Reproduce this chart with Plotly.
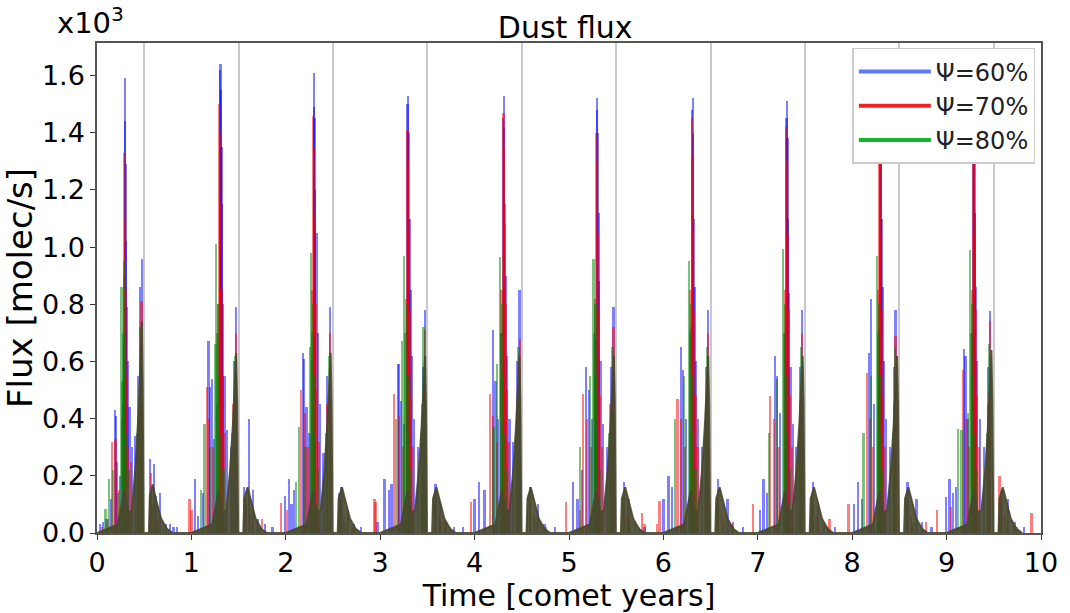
import plotly.graph_objects as go

# ---------------------------------------------------------------------------
# Dust flux spikes (units of 10^3 molec/s) against time in comet years
# ---------------------------------------------------------------------------
blue_t = [
    0.03, 0.06, 0.10, 0.15, 0.19, 0.20, 0.215, 0.245, 0.282, 0.288, 0.295, 0.300, 0.305, 0.310, 0.318, 0.328, 0.345, 0.37, 0.40, 0.44, 0.455, 0.474, 0.565, 0.60, 0.625, 0.67, 0.73, 0.77, 0.81, 0.85,
    1.04, 1.07, 1.12, 1.18, 1.20, 1.22, 1.24, 1.275, 1.29, 1.30, 1.308, 1.312, 1.318, 1.325, 1.335, 1.35, 1.38, 1.42, 1.45, 1.47, 1.56, 1.61, 1.65, 1.70, 1.78, 1.86,
    1.99, 2.03, 2.06, 2.09, 2.185, 2.19, 2.22, 2.25, 2.28, 2.295, 2.30, 2.305, 2.312, 2.325, 2.34, 2.36, 2.40, 2.44, 2.47, 2.56, 2.59, 2.66, 2.72, 2.80, 2.97,
    3.045, 3.09, 3.12, 3.186, 3.20, 3.22, 3.25, 3.28, 3.29, 3.295, 3.30, 3.31, 3.32, 3.335, 3.36, 3.40, 3.45, 3.474, 3.586, 3.63, 3.70, 3.78, 3.88,
    4.00, 4.05, 4.106, 4.194, 4.22, 4.25, 4.285, 4.30, 4.31, 4.315, 4.322, 4.33, 4.345, 4.37, 4.41, 4.45, 4.475, 4.59, 4.675, 4.74, 4.85,
    5.04, 5.09, 5.14, 5.18, 5.21, 5.24, 5.28, 5.295, 5.30, 5.305, 5.312, 5.32, 5.335, 5.36, 5.40, 5.445, 5.47, 5.585, 5.63, 5.70, 5.80,
    6.00, 6.055, 6.09, 6.19, 6.21, 6.24, 6.29, 6.305, 6.31, 6.315, 6.322, 6.33, 6.345, 6.37, 6.41, 6.45, 6.47, 6.58, 6.68, 6.74, 6.84,
    7.02, 7.06, 7.10, 7.18, 7.20, 7.235, 7.29, 7.305, 7.31, 7.315, 7.322, 7.33, 7.345, 7.37, 7.41, 7.45, 7.47, 7.585, 7.64, 7.70, 7.82,
    8.02, 8.06, 8.10, 8.18, 8.20, 8.23, 8.28, 8.295, 8.30, 8.305, 8.312, 8.32, 8.335, 8.36, 8.40, 8.44, 8.46, 8.585, 8.68, 8.74, 8.84,
    8.995, 9.03, 9.07, 9.10, 9.185, 9.20, 9.23, 9.275, 9.285, 9.29, 9.295, 9.302, 9.31, 9.325, 9.35, 9.40, 9.44, 9.46, 9.585, 9.65, 9.72, 9.82,
]
blue_v = [
    0.03, 0.04, 0.05, 0.12, 0.43, 0.41, 0.25, 0.20, 0.45, 0.66, 1.59, 1.44, 1.29, 1.02, 0.79, 0.60, 0.44, 0.30, 0.34, 0.55, 0.86, 0.96, 0.26, 0.24, 0.13, 0.14, 0.03, 0.03, 0.02, 0.02,
    0.19, 0.06, 0.14, 0.67, 0.51, 0.54, 0.33, 0.45, 0.70, 1.62, 1.64, 1.55, 1.35, 1.15, 0.80, 0.55, 0.36, 0.30, 0.60, 0.79, 0.16, 0.40, 0.15, 0.05, 0.03, 0.02,
    0.13, 0.19, 0.10, 0.15, 0.63, 0.61, 0.44, 0.35, 0.60, 1.49, 1.61, 1.45, 1.20, 1.05, 0.70, 0.45, 0.28, 0.55, 0.79, 0.14, 0.16, 0.08, 0.03, 0.02, 0.04,
    0.19, 0.15, 0.17, 0.59, 0.59, 0.46, 0.38, 0.72, 1.50, 1.53, 1.40, 1.10, 0.85, 0.62, 0.40, 0.30, 0.58, 0.78, 0.17, 0.11, 0.04, 0.02, 0.02,
    0.12, 0.18, 0.15, 0.71, 0.53, 0.40, 0.70, 1.45, 1.53, 1.42, 1.15, 0.90, 0.62, 0.40, 0.32, 0.60, 0.85, 0.16, 0.10, 0.03, 0.02,
    0.18, 0.12, 0.22, 0.58, 0.50, 0.40, 0.68, 1.48, 1.52, 1.40, 1.12, 0.88, 0.60, 0.38, 0.30, 0.58, 0.79, 0.18, 0.12, 0.04, 0.02,
    0.12, 0.20, 0.16, 0.65, 0.57, 0.40, 0.72, 1.48, 1.52, 1.40, 1.10, 0.86, 0.60, 0.40, 0.30, 0.58, 0.78, 0.19, 0.12, 0.04, 0.02,
    0.08, 0.19, 0.14, 0.62, 0.55, 0.42, 0.70, 1.45, 1.51, 1.38, 1.10, 0.84, 0.58, 0.38, 0.30, 0.58, 0.78, 0.18, 0.11, 0.04, 0.02,
    0.10, 0.18, 0.12, 0.63, 0.82, 0.45, 0.72, 1.45, 1.50, 1.38, 1.10, 0.86, 0.60, 0.40, 0.30, 0.58, 0.78, 0.18, 0.12, 0.04, 0.02,
    0.125, 0.19, 0.14, 0.16, 0.645, 0.62, 0.40, 0.70, 1.45, 1.52, 1.40, 1.12, 0.86, 0.60, 0.40, 0.30, 0.58, 0.776, 0.155, 0.12, 0.04, 0.02,
]

red_t = [
    0.05, 0.12, 0.161, 0.195, 0.23, 0.27, 0.285, 0.29, 0.297, 0.305, 0.315, 0.33, 0.36, 0.44, 0.465, 0.472, 0.57, 0.60, 0.64, 0.73,
    0.98, 1.00, 1.166, 1.19, 1.23, 1.28, 1.295, 1.30, 1.308, 1.318, 1.33, 1.35, 1.44, 1.47, 1.575, 1.62, 1.75,
    1.946, 2.01, 2.16, 2.20, 2.23, 2.275, 2.29, 2.297, 2.305, 2.315, 2.33, 2.35, 2.44, 2.47, 2.58, 2.62, 2.70, 2.94,
    2.95, 3.15, 3.20, 3.24, 3.275, 3.29, 3.297, 3.305, 3.315, 3.33, 3.35, 3.44, 3.475, 3.58, 3.62, 3.68,
    3.96, 4.16, 4.195, 4.24, 4.285, 4.305, 4.31, 4.318, 4.328, 4.34, 4.36, 4.45, 4.477, 4.585, 4.63, 4.70,
    4.97, 5.12, 5.15, 5.19, 5.23, 5.275, 5.29, 5.297, 5.305, 5.315, 5.33, 5.35, 5.44, 5.47, 5.58, 5.62, 5.80,
    5.77, 5.93, 5.96, 6.15, 6.19, 6.23, 6.285, 6.30, 6.307, 6.315, 6.325, 6.34, 6.36, 6.45, 6.47, 6.58, 6.62, 6.72,
    6.95, 7.13, 7.17, 7.22, 7.285, 7.30, 7.307, 7.315, 7.325, 7.34, 7.36, 7.45, 7.47, 7.58, 7.62, 7.76,
    7.96, 8.16, 8.19, 8.22, 8.275, 8.29, 8.297, 8.305, 8.315, 8.33, 8.35, 8.44, 8.46, 8.58, 8.62, 8.78,
    8.90, 9.05, 9.17, 9.21, 9.24, 9.27, 9.285, 9.292, 9.30, 9.31, 9.325, 9.345, 9.44, 9.46, 9.56, 9.62, 9.90,
]
red_v = [
    0.02, 0.05, 0.32, 0.33, 0.15, 0.40, 0.90, 1.33, 1.10, 0.85, 0.55, 0.30, 0.25, 0.40, 0.70, 0.81, 0.21, 0.10, 0.05, 0.02,
    0.12, 0.08, 0.51, 0.40, 0.30, 0.80, 1.50, 1.40, 1.15, 0.85, 0.55, 0.35, 0.45, 0.70, 0.12, 0.08, 0.05,
    0.105, 0.08, 0.50, 0.42, 0.30, 0.85, 1.46, 1.35, 1.10, 0.80, 0.50, 0.32, 0.45, 0.70, 0.12, 0.06, 0.02, 0.12,
    0.107, 0.485, 0.41, 0.30, 0.82, 1.41, 1.30, 1.05, 0.78, 0.48, 0.30, 0.45, 0.71, 0.12, 0.06, 0.04,
    0.11, 0.485, 0.41, 0.32, 0.85, 1.47, 1.35, 1.08, 0.80, 0.50, 0.32, 0.45, 0.68, 0.13, 0.06, 0.03,
    0.107, 0.08, 0.485, 0.40, 0.30, 0.82, 1.40, 1.30, 1.05, 0.78, 0.48, 0.30, 0.45, 0.72, 0.12, 0.06, 0.03,
    0.07, 0.03, 0.113, 0.47, 0.40, 0.30, 0.85, 1.45, 1.32, 1.06, 0.78, 0.48, 0.30, 0.45, 0.70, 0.13, 0.06, 0.03,
    0.10, 0.48, 0.40, 0.30, 0.85, 1.42, 1.30, 1.05, 0.78, 0.48, 0.30, 0.45, 0.70, 0.12, 0.06, 0.05,
    0.10, 0.56, 0.40, 0.30, 0.85, 1.40, 1.30, 1.05, 0.78, 0.48, 0.30, 0.45, 0.69, 0.12, 0.06, 0.04,
    0.08, 0.09, 0.57, 0.40, 0.30, 0.85, 1.44, 1.30, 1.05, 0.78, 0.48, 0.30, 0.45, 0.74, 0.20, 0.06, 0.07,
]

green_t = [
    0.09, 0.126, 0.17, 0.22, 0.26, 0.27, 0.28, 0.29, 0.30, 0.31, 0.34, 0.43, 0.46, 0.475, 0.58, 0.64, 0.70, 0.76,
    1.10, 1.14, 1.20, 1.254, 1.26, 1.27, 1.285, 1.295, 1.31, 1.34, 1.43, 1.46, 1.58, 1.64, 1.72,
    2.11, 2.14, 2.20, 2.255, 2.265, 2.275, 2.285, 2.295, 2.31, 2.34, 2.43, 2.46, 2.58, 2.64, 2.72,
    3.17, 3.23, 3.255, 3.265, 3.28, 3.29, 3.30, 3.33, 3.43, 3.46, 3.58, 3.64, 3.74,
    4.20, 4.24, 4.27, 4.28, 4.29, 4.30, 4.31, 4.34, 4.44, 4.465, 4.59, 4.65, 4.75,
    5.12, 5.22, 5.26, 5.27, 5.28, 5.29, 5.30, 5.33, 5.43, 5.46, 5.58, 5.64, 5.74,
    6.12, 6.22, 6.27, 6.28, 6.29, 6.30, 6.31, 6.34, 6.44, 6.46, 6.58, 6.64, 6.74,
    7.12, 7.20, 7.27, 7.28, 7.29, 7.30, 7.31, 7.34, 7.44, 7.46, 7.58, 7.64, 7.74,
    8.12, 8.20, 8.26, 8.27, 8.28, 8.29, 8.30, 8.33, 8.43, 8.45, 8.58, 8.64, 8.74,
    9.12, 9.157, 9.23, 9.25, 9.26, 9.27, 9.28, 9.29, 9.32, 9.43, 9.45, 9.57, 9.64, 9.74,
]
green_v = [
    0.085, 0.19, 0.22, 0.14, 0.86, 0.53, 0.70, 0.95, 0.60, 0.35, 0.22, 0.35, 0.72, 0.60, 0.10, 0.04, 0.02, 0.015,
    0.15, 0.38, 0.30, 0.66, 1.01, 0.70, 0.80, 0.55, 0.35, 0.22, 0.35, 0.62, 0.10, 0.04, 0.02,
    0.18, 0.37, 0.30, 0.65, 0.98, 0.70, 0.80, 0.55, 0.35, 0.22, 0.35, 0.62, 0.10, 0.04, 0.02,
    0.40, 0.67, 0.97, 0.70, 0.80, 0.55, 0.35, 0.22, 0.35, 0.72, 0.10, 0.04, 0.02,
    0.37, 0.59, 0.965, 0.70, 0.80, 0.55, 0.35, 0.22, 0.35, 0.65, 0.10, 0.04, 0.02,
    0.30, 0.55, 0.96, 0.70, 0.80, 0.55, 0.35, 0.22, 0.35, 0.65, 0.10, 0.04, 0.02,
    0.40, 0.55, 0.95, 0.70, 0.80, 0.55, 0.35, 0.22, 0.35, 0.65, 0.10, 0.04, 0.02,
    0.35, 0.54, 0.995, 0.70, 0.80, 0.55, 0.35, 0.22, 0.35, 0.65, 0.10, 0.04, 0.02,
    0.35, 0.55, 0.97, 0.70, 0.80, 0.55, 0.35, 0.22, 0.35, 0.65, 0.10, 0.04, 0.02,
    0.365, 0.36, 0.42, 0.99, 0.70, 0.80, 0.55, 0.35, 0.22, 0.35, 0.66, 0.10, 0.04, 0.02,
]

# Dense band where the runs of all three series overlap
band_t = [
    0.00, 0.22, 0.29, 0.33, 0.37, 0.41, 0.44, 0.46, 0.475, 0.485, 0.493, 0.55, 0.56, 0.59, 0.63, 0.68, 0.74, 0.80,
    1.00, 1.22, 1.29, 1.33, 1.37, 1.41, 1.44, 1.46, 1.475, 1.485, 1.495, 1.55, 1.56, 1.595, 1.63, 1.68, 1.74, 1.80,
    2.00, 2.22, 2.29, 2.33, 2.37, 2.41, 2.44, 2.46, 2.475, 2.485, 2.495, 2.55, 2.56, 2.595, 2.63, 2.68, 2.74, 2.80,
    3.00, 3.22, 3.29, 3.33, 3.37, 3.41, 3.44, 3.46, 3.475, 3.485, 3.495, 3.55, 3.56, 3.595, 3.63, 3.68, 3.74, 3.80,
    4.00, 4.22, 4.29, 4.33, 4.37, 4.41, 4.44, 4.46, 4.475, 4.485, 4.495, 4.55, 4.56, 4.595, 4.63, 4.68, 4.74, 4.80,
    5.00, 5.22, 5.29, 5.33, 5.37, 5.41, 5.44, 5.46, 5.475, 5.485, 5.495, 5.55, 5.56, 5.595, 5.63, 5.68, 5.74, 5.80,
    6.00, 6.22, 6.29, 6.33, 6.37, 6.41, 6.44, 6.46, 6.475, 6.485, 6.495, 6.55, 6.56, 6.595, 6.63, 6.68, 6.74, 6.80,
    7.00, 7.22, 7.29, 7.33, 7.37, 7.41, 7.44, 7.46, 7.475, 7.485, 7.495, 7.55, 7.56, 7.595, 7.63, 7.68, 7.74, 7.80,
    8.00, 8.22, 8.29, 8.33, 8.37, 8.41, 8.44, 8.46, 8.475, 8.485, 8.495, 8.55, 8.56, 8.595, 8.63, 8.68, 8.74, 8.80,
    9.00, 9.22, 9.29, 9.33, 9.37, 9.41, 9.44, 9.46, 9.475, 9.485, 9.495, 9.55, 9.56, 9.595, 9.63, 9.68, 9.74, 9.80,
]
band_v = [
    0.00, 0.03, 0.15, 0.07, 0.08, 0.24, 0.42, 0.60, 0.74, 0.50, 0.00, 0.00, 0.13, 0.17, 0.11, 0.05, 0.015, 0.00,
    0.00, 0.03, 0.15, 0.07, 0.08, 0.22, 0.38, 0.53, 0.63, 0.45, 0.00, 0.00, 0.12, 0.16, 0.11, 0.05, 0.015, 0.00,
    0.00, 0.03, 0.15, 0.07, 0.08, 0.22, 0.38, 0.53, 0.63, 0.45, 0.00, 0.00, 0.12, 0.16, 0.11, 0.05, 0.015, 0.00,
    0.00, 0.03, 0.15, 0.07, 0.08, 0.22, 0.38, 0.53, 0.62, 0.45, 0.00, 0.00, 0.12, 0.16, 0.11, 0.05, 0.015, 0.00,
    0.00, 0.03, 0.15, 0.07, 0.08, 0.22, 0.38, 0.53, 0.62, 0.45, 0.00, 0.00, 0.12, 0.16, 0.11, 0.05, 0.015, 0.00,
    0.00, 0.03, 0.15, 0.07, 0.08, 0.22, 0.38, 0.53, 0.62, 0.45, 0.00, 0.00, 0.12, 0.16, 0.11, 0.05, 0.015, 0.00,
    0.00, 0.03, 0.15, 0.07, 0.08, 0.22, 0.38, 0.53, 0.62, 0.45, 0.00, 0.00, 0.12, 0.16, 0.11, 0.05, 0.015, 0.00,
    0.00, 0.03, 0.15, 0.07, 0.08, 0.22, 0.38, 0.53, 0.62, 0.45, 0.00, 0.00, 0.12, 0.16, 0.11, 0.05, 0.015, 0.00,
    0.00, 0.03, 0.15, 0.07, 0.08, 0.22, 0.38, 0.53, 0.62, 0.45, 0.00, 0.00, 0.12, 0.16, 0.11, 0.05, 0.015, 0.00,
    0.00, 0.03, 0.15, 0.07, 0.08, 0.22, 0.38, 0.53, 0.64, 0.45, 0.00, 0.00, 0.12, 0.16, 0.11, 0.05, 0.015, 0.00,
]

series_names = ["Ψ=60%", "Ψ=70%", "Ψ=80%"]
legend_colors = ["#5b7bf7", "#ee2020", "#14b32c"]
spike_colors = ["rgba(0,0,255,0.5)", "rgba(255,0,0,0.5)", "rgba(0,128,0,0.5)"]
band_color = "rgba(72,72,44,0.9)"

x_ticks = list(range(0, 11))
y_ticks = [0.0, 0.2, 0.4, 0.6, 0.8, 1.0, 1.2, 1.4, 1.6]
y_ticktext = ["0.0", "0.2", "0.4", "0.6", "0.8", "1.0", "1.2", "1.4", "1.6"]

FONT = "DejaVu Sans"

fig = go.Figure()

# Thin spikes, one bar per sample so overlapping spikes build up colour
for (ts, vs), col in zip([(blue_t, blue_v), (red_t, red_v), (green_t, green_v)], spike_colors):
    fig.add_trace(go.Bar(
        x=ts, y=vs, width=0.024,
        marker=dict(color=col, line=dict(width=0)),
        showlegend=False, hoverinfo="skip",
    ))

# Dense overlapping band
fig.add_trace(go.Scatter(
    x=band_t, y=band_v, mode="lines", fill="tozeroy",
    fillcolor=band_color, line=dict(color=band_color, width=2),
    showlegend=False, hoverinfo="skip",
))

# Legend entries
for name, col in zip(series_names, legend_colors):
    fig.add_trace(go.Scatter(
        x=[None], y=[None], mode="lines", name=name,
        line=dict(color=col, width=4),
    ))

fig.update_layout(
    width=1070, height=613,
    margin=dict(l=97, r=24, t=43, b=70),
    paper_bgcolor="white", plot_bgcolor="white",
    barmode="overlay", bargap=0,
    font=dict(family=FONT, color="black"),
    title=dict(text="Dust flux", x=0.496, xref="paper", xanchor="center",
               y=1 - 27 / 613, yref="container", yanchor="middle",
               font=dict(size=30, family=FONT, color="black")),
    legend=dict(x=0.994, y=0.99, xanchor="right", yanchor="top",
                bgcolor="white", bordercolor="#cccccc", borderwidth=1.5,
                font=dict(size=24, family=FONT, color="#222222"),
                itemwidth=72),
    showlegend=True,
)

fig.update_xaxes(
    range=[0, 10], tickmode="array", tickvals=x_ticks,
    ticks="outside", ticklen=5, tickwidth=1.2, tickcolor="#333333",
    tickfont=dict(size=27, family=FONT, color="black"),
    showline=True, mirror=True, linecolor="#555555", linewidth=1.5,
    showgrid=False, zeroline=False,
    minor=dict(tickmode="linear", tick0=0.5, dtick=1, showgrid=True,
               gridcolor="#c8c8c8", gridwidth=1.5, ticks=""),
    title=dict(text="Time [comet years]", font=dict(size=30, family=FONT, color="black"), standoff=2),
)
fig.update_yaxes(
    range=[0, 1.714], tickmode="array", tickvals=y_ticks, ticktext=y_ticktext,
    ticks="outside", ticklen=5, tickwidth=1.2, tickcolor="#333333",
    tickfont=dict(size=27, family=FONT, color="black"),
    showline=True, mirror=True, linecolor="#555555", linewidth=1.5,
    showgrid=False, zeroline=False,
    title=dict(text="Flux [molec/s]", font=dict(size=34, family=FONT, color="black"), standoff=2),
)

fig.add_annotation(
    text="x10<sup>3</sup>", xref="paper", yref="paper",
    x=-0.044, y=1.045, xanchor="left", yanchor="middle",
    showarrow=False, font=dict(size=29, family=FONT, color="black"),
)

fig.write_html("out.html")
